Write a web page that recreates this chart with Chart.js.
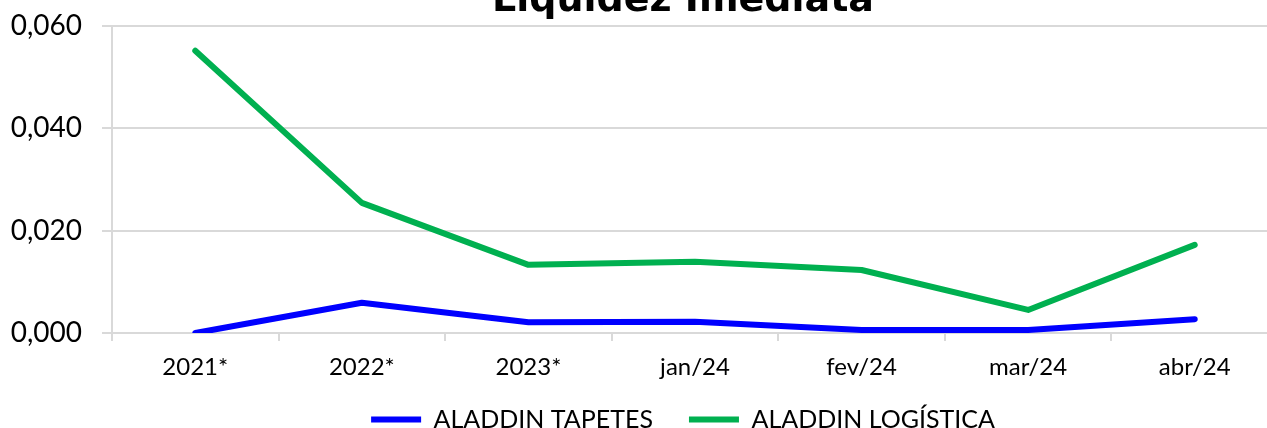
<!DOCTYPE html>
<html>
<head>
<meta charset="utf-8">
<script src="https://cdn.jsdelivr.net/npm/chart.js@4"></script>
<style>
    html, body { margin: 0; padding: 0; background: #fff; overflow: hidden; }
    #wrap { position: relative; width: 1366px; height: 466px; margin-top: -20px; }
</style>
</head>
<body>
<div id="wrap"><canvas id="chart"></canvas></div>
<script>
// Chart data
const categories = ['2021*', '2022*', '2023*', 'jan/24', 'fev/24', 'mar/24', 'abr/24'];
const tapetes = [0.0000, 0.0059, 0.0021, 0.0022, 0.0006, 0.0006, 0.0027];
const logistica = [0.0551, 0.0254, 0.0133, 0.0139, 0.0123, 0.0045, 0.0172];
const yTicks = [0, 0.02, 0.04, 0.06];

const gridColor = '#d9d9d9';
const tickFont = 'Lato';

// Format like Excel: 0,000
function fmt(v) {
    return v.toFixed(3).replace('.', ',');
}

// The original chart is wider than the picture, so title and legend
// sit a bit right of the plot centre
const shiftBoxes = {
    id: 'shiftBoxes',
    afterLayout(chart) {
        chart.legend.left += 44;
        chart.legend.right += 44;
        chart.titleBlock.left += 44;
        chart.titleBlock.right += 44;
        chart.titleBlock.top -= 2;
        chart.titleBlock.bottom -= 2;
        // x axis box is kept short for layout; let its labels draw below it
        chart.scales.x.bottom = chart.scales.x.top + 60;
    }
};

const ctx = document.getElementById('chart').getContext('2d');
new Chart(ctx, {
    type: 'line',
    data: {
        labels: categories,
        datasets: [{
            label: 'ALADDIN TAPETES',
            data: tapetes,
            borderColor: '#0000ff',
            backgroundColor: '#0000ff',
            borderWidth: 6,
            borderCapStyle: 'round',
            borderJoinStyle: 'round',
            pointRadius: 0,
            tension: 0
        }, {
            label: 'ALADDIN LOGÍSTICA',
            data: logistica,
            borderColor: '#00b050',
            backgroundColor: '#00b050',
            borderWidth: 6,
            borderCapStyle: 'round',
            borderJoinStyle: 'round',
            pointRadius: 0,
            tension: 0
        }]
    },
    options: {
        responsive: true,
        maintainAspectRatio: false,
        animation: false,
        layout: { padding: { left: 0, right: 88, top: 0, bottom: 4 } },
        plugins: {
            title: {
                display: true,
                text: 'Liquidez Imediata',
                color: '#000',
                font: { family: 'DejaVu Sans', size: 38, weight: 'bold' },
                padding: { top: 0, bottom: 0 }
            },
            legend: {
                position: 'bottom',
                labels: {
                    usePointStyle: true,
                    pointStyle: 'line',
                    pointStyleWidth: 50,
                    color: '#000',
                    font: { family: tickFont, size: 25 },
                    padding: 36
                }
            },
            tooltip: { enabled: false }
        },
        scales: {
            x: {
                offset: true,
                afterFit: (scale) => { scale.height = 38; },
                grid: {
                    display: true,
                    offset: true,
                    drawOnChartArea: false,
                    color: gridColor,
                    lineWidth: 2,
                    tickLength: 8
                },
                border: { display: false },
                ticks: {
                    color: '#000',
                    font: { family: tickFont, size: 24 },
                    padding: 12,
                    maxRotation: 0
                }
            },
            y: {
                min: 0,
                max: 0.06,
                afterBuildTicks: (scale) => {
                    scale.ticks = yTicks.map(v => ({ value: v }));
                },
                afterFit: (scale) => { scale.width = 112; },
                grid: {
                    color: gridColor,
                    lineWidth: 2,
                    tickLength: 10
                },
                border: { color: gridColor, width: 2 },
                ticks: {
                    color: '#000',
                    font: { family: tickFont, size: 28 },
                    padding: 20,
                    callback: (v) => fmt(v)
                }
            }
        }
    },
    plugins: [shiftBoxes]
});
</script>
</body>
</html>
